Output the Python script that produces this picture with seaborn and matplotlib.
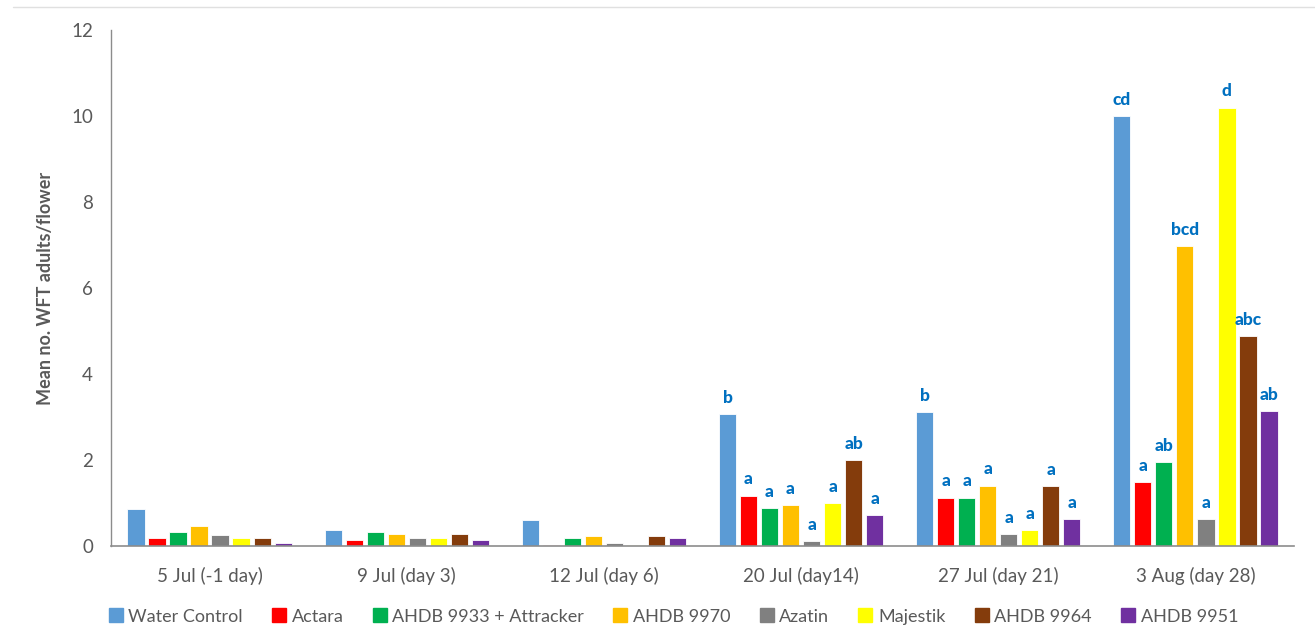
import matplotlib
matplotlib.use("Agg")
import matplotlib.pyplot as plt
from matplotlib.lines import Line2D
import seaborn as sns
import pandas as pd

# Sampling dates (days after treatment)
dates = ["5 Jul (-1 day)", "9 Jul (day 3)", "12 Jul (day 6)",
         "20 Jul (day14)", "27 Jul (day 21)", "3 Aug (day 28)"]

treatments = ["Water Control", "Actara", "AHDB 9933 + Attracker", "AHDB 9970",
              "Azatin", "Majestik", "AHDB 9964", "AHDB 9951"]

# Mean number of WFT adults per flower, one list per treatment (by date)
water_control = [0.87, 0.37, 0.60, 3.07, 3.11, 10.00]
actara        = [0.20, 0.14, 0.03, 1.17, 1.13, 1.48]
ahdb_9933     = [0.33, 0.33, 0.20, 0.88, 1.13, 1.95]
ahdb_9970     = [0.46, 0.29, 0.24, 0.95, 1.41, 6.97]
azatin        = [0.25, 0.20, 0.07, 0.12, 0.28, 0.63]
majestik      = [0.20, 0.20, 0.02, 1.00, 0.37, 10.20]
ahdb_9964     = [0.20, 0.29, 0.24, 2.00, 1.39, 4.89]
ahdb_9951     = [0.08, 0.14, 0.18, 0.72, 0.63, 3.14]

# Significance letters per treatment (by date; blank = not tested)
letters_water    = ["", "", "", "b", "b", "cd"]
letters_actara   = ["", "", "", "a", "a", "a"]
letters_9933     = ["", "", "", "a", "a", "ab"]
letters_9970     = ["", "", "", "a", "a", "bcd"]
letters_azatin   = ["", "", "", "a", "a", "a"]
letters_majestik = ["", "", "", "a", "a", "d"]
letters_9964     = ["", "", "", "ab", "a", "abc"]
letters_9951     = ["", "", "", "a", "a", "ab"]

colors = ["#5B9BD5", "#FF0000", "#00B050", "#FFC000",
          "#808080", "#FFFF00", "#843C0C", "#7030A0"]

series = [water_control, actara, ahdb_9933, ahdb_9970,
          azatin, majestik, ahdb_9964, ahdb_9951]
letters = [letters_water, letters_actara, letters_9933, letters_9970,
           letters_azatin, letters_majestik, letters_9964, letters_9951]

rows = []
for t, vals in zip(treatments, series):
    for d, v in zip(dates, vals):
        rows.append({"date": d, "treatment": t, "mean": v})
df = pd.DataFrame(rows)

sns.set_theme(style="white")
plt.rcParams["font.family"] = ["Lato", "DejaVu Sans"]

fig = plt.figure(figsize=(13.15, 6.41), dpi=100)
ax = fig.add_axes([0.0844, 0.148, 0.8996, 0.805])

sns.barplot(data=df, x="date", y="mean", hue="treatment",
            order=dates, hue_order=treatments, palette=colors,
            saturation=1, width=0.853, gap=0.18, errorbar=None,
            edgecolor="white", linewidth=0.6, ax=ax)

for cont, labs in zip(ax.containers, letters):
    ax.bar_label(cont, labels=labs, padding=6, color="#0070C0",
                 fontsize=12.5, fontweight="black")

ax.set_ylim(0, 12)
ax.set_yticks(range(0, 13, 2))
ax.set_xlim(-0.5, len(dates) - 0.5)
ax.set_xlabel("")
ax.set_ylabel("Mean no. WFT adults/flower", fontsize=13, fontweight="bold",
              color="#595959", labelpad=12)

ax.tick_params(axis="both", length=0, colors="#595959", labelsize=13.5)
ax.tick_params(axis="y", pad=13)
ax.tick_params(axis="x", pad=15)

for side in ["top", "right"]:
    ax.spines[side].set_visible(False)
ax.spines["left"].set_color("#8C8C8C")
ax.spines["bottom"].set_color("#8C8C8C")
ax.spines["left"].set_linewidth(1.0)
ax.spines["bottom"].set_linewidth(1.2)

ax.legend_.remove()
handles = [Line2D([0], [0], marker="s", linestyle="none", markersize=10,
                  markerfacecolor=c, markeredgecolor=c) for c in colors]
fig.legend(handles, treatments, loc="center", bbox_to_anchor=(0.512, 0.038),
           ncol=8, frameon=False, fontsize=13, handlelength=0.8,
           handletextpad=0.3, columnspacing=1.6, labelcolor="#595959")

# Thin chart-area border across the top
fig.add_artist(Line2D([0.01, 1.0], [1 - 7 / 641, 1 - 7 / 641],
                      color="#E0E0E0", linewidth=1.0))

fig.savefig("out.png", dpi=100)
